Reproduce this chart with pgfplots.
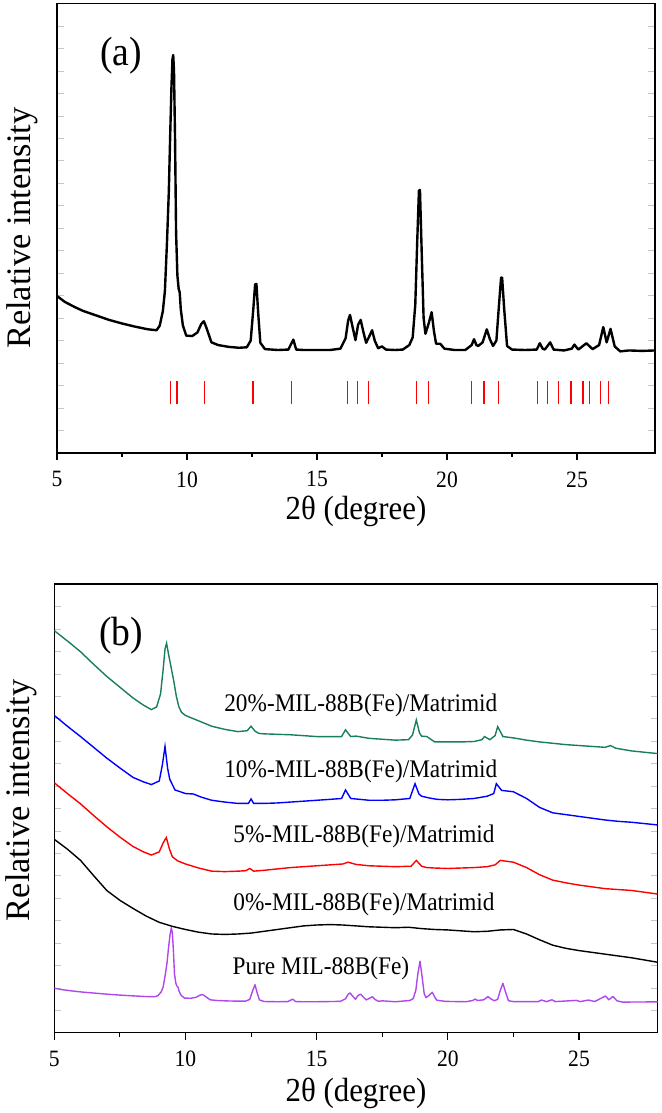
\documentclass[border=0pt]{standalone}
\usepackage{fontspec}
\setmainfont{Liberation Serif}[FakeStretch=0.92]
\newfontfamily\yfont{Liberation Serif}
\usepackage{pgfplots}
\pgfplotsset{compat=1.18}
\definecolor{mgreen}{RGB}{24,128,88}
\definecolor{mpurple}{RGB}{176,70,238}
\begin{document}
\begin{tikzpicture}
\path[use as bounding box] (0,0) rectangle (662bp,1113bp);
\pgfplotsset{
  xrdaxis/.style={
    scale only axis,
    anchor=south west,
    xmin=5, xmax=28, ymin=0, ymax=100,
    xtick={5,10,15,20,25},
    minor x tick num=1,
    xtick pos=bottom,
    xtick align=outside,
    ytick={5,10,...,95},
    yticklabels={},
    ytick pos=both,
    ytick align=inside,
    y tick style={line width=0.4bp, gray!45},
    x tick style={line width=1.1bp, black},
    major tick length=7bp,
    minor tick length=4bp,
    axis line style={line width=1.2bp},
    /pgf/number format/assume math mode=true,
    tick label style={font=\fontsize{23.5}{26}\selectfont},
    xticklabel style={yshift=-8bp},
    xlabel style={font=\fontsize{33.7}{38}\selectfont},
    ylabel style={font=\yfont\fontsize{34.5}{38}\selectfont},
    xlabel={2θ (degree)},
    ylabel={Relative intensity},
    unbounded coords=jump,
    clip=true,
  }
}
% ---------------- panel (a) ----------------
\begin{axis}[xrdaxis, at={(57bp,660bp)}, width=598bp, height=449.7bp,
  xlabel style={at={(axis description cs:0.5,0)}, anchor=center, yshift=-58bp},
  ylabel style={at={(axis description cs:-0.0588,0.5)}, anchor=center}]
\addplot[black, line width=2.4bp, line join=round] coordinates {
(5.0,34.9) (5.3,33.6) (5.7,32.4) (6.0,31.6) (6.5,30.6) (7.0,29.6) (7.5,28.8) (8.0,28.1) (8.5,27.5) (8.83,27.3)
(8.95,28.3) (9.07,31.5) (9.15,36) (9.23,46.8) (9.30,58) (9.35,69.9) (9.40,81) (9.44,87.5) (9.47,88.5) (9.50,85) (9.54,70)
(9.58,49) (9.63,39.5) (9.68,36.5) (9.72,35.7) (9.76,32) (9.84,28.4) (9.97,26.1) (10.2,26.0) (10.4,26.8) (10.55,28.7)
(10.65,29.3) (10.75,27.8) (10.94,24.6) (11.2,24.0) (11.6,23.6) (12.0,23.4) (12.3,23.5) (12.45,25) (12.55,32) (12.62,37.5) (12.67,37.6)
(12.74,31) (12.82,24.5) (13.0,23.1) (13.5,22.9) (13.9,23.0) (14.0,24.2) (14.09,25.2) (14.2,23.0) (14.5,22.9) (15.0,22.9)
(15.5,22.9) (15.9,23.2) (16.1,25.5) (16.2,29.5) (16.27,30.7) (16.35,28.5) (16.48,25.1) (16.58,28.5) (16.68,29.6) (16.78,27)
(16.89,24.5) (17.0,25.8) (17.12,27.3) (17.22,25.0) (17.35,23.3) (17.5,23.7) (17.65,23.0) (18.0,22.9) (18.3,23.0) (18.55,24.0)
(18.68,25.7) (18.78,33) (18.86,48) (18.92,58.3) (18.96,58.5) (19.03,44) (19.1,30) (19.17,26.5) (19.28,28.5) (19.41,31.3) (19.5,27)
(19.58,24.3) (19.74,24.3) (19.9,23.2) (20.3,22.9) (20.7,22.9) (20.95,24.0) (21.04,25.3) (21.13,24.0) (21.2,23.8) (21.37,24.6)
(21.53,27.5) (21.65,25.3) (21.77,23.8) (21.9,25.0) (22.0,33) (22.08,39) (22.12,39) (22.2,32) (22.31,23.8) (22.5,23.0) (23.0,22.9)
(23.45,23.0) (23.57,24.4) (23.68,23.2) (23.76,23.0) (23.97,24.6) (24.1,23.0) (24.5,22.8) (24.8,23.2) (24.9,24.1) (25.05,23.0)
(25.36,24.4) (25.6,23.1) (25.85,24.0) (26.01,28.0) (26.14,24.6) (26.29,27.6) (26.45,23.7) (26.66,22.6) (27.0,22.8) (27.5,22.7) (28.0,22.8)
};
\addplot[red, line width=1.3bp] coordinates {
(9.36,10.8) (9.36,16.1) (9.36,nan)
(9.61,10.8) (9.61,16.1) (9.61,nan)
(10.67,10.8) (10.67,16.1) (10.67,nan)
(12.54,10.8) (12.54,16.1) (12.54,nan)
(14.01,10.8) (14.01,16.1) (14.01,nan)
(16.18,10.8) (16.18,16.1) (16.18,nan)
(16.56,10.8) (16.56,16.1) (16.56,nan)
(16.99,10.8) (16.99,16.1) (16.99,nan)
(18.83,10.8) (18.83,16.1) (18.83,nan)
(19.30,10.8) (19.30,16.1) (19.30,nan)
(20.94,10.8) (20.94,16.1) (20.94,nan)
(21.42,10.8) (21.42,16.1) (21.42,nan)
(21.99,10.8) (21.99,16.1) (21.99,nan)
(23.49,10.8) (23.49,16.1) (23.49,nan)
(23.86,10.8) (23.86,16.1) (23.86,nan)
(24.30,10.8) (24.30,16.1) (24.30,nan)
(24.77,10.8) (24.77,16.1) (24.77,nan)
(25.23,10.8) (25.23,16.1) (25.23,nan)
(25.49,10.8) (25.49,16.1) (25.49,nan)
(25.90,10.8) (25.90,16.1) (25.90,nan)
(26.21,10.8) (26.21,16.1)
};
\node[font=\fontsize{41}{45}\selectfont] at (axis cs:7.46,88.3) {(a)};
\end{axis}
% ---------------- panel (b) ----------------
\begin{axis}[xrdaxis, at={(54.3bp,80.3bp)}, width=603.4bp, height=448.7bp,
  xlabel style={at={(axis description cs:0.5,0)}, anchor=center, yshift=-61bp},
  ylabel style={at={(axis description cs:-0.0545,0.518)}, anchor=center}]
% Pure MIL-88B(Fe)
\addplot[mpurple, line width=1.4bp, line join=round] coordinates {
(5.0,9.92) (5.3,9.59) (5.7,9.29) (6.0,9.09) (6.5,8.84) (7.0,8.59) (7.5,8.38) (8.0,8.21) (8.5,8.06) (8.83,8.01)
(8.95,8.26) (9.07,9.06) (9.15,10.19) (9.23,12.91) (9.30,15.73) (9.35,18.72) (9.41,21.76) (9.46,23.40) (9.50,22.27) (9.54,18.24)
(9.58,13.21) (9.63,11.07) (9.68,10.32) (9.72,10.12) (9.76,9.19) (9.84,8.28) (9.97,7.70) (10.2,7.68) (10.4,7.88) (10.55,8.36)
(10.65,8.51) (10.75,8.13) (10.94,7.33) (11.2,7.18) (11.6,7.08) (12.0,7.03) (12.3,7.05) (12.45,7.43) (12.55,9.19) (12.65,10.70)
(12.73,8.94) (12.82,7.30) (13.0,6.95) (13.5,6.90) (13.9,6.93) (14.0,7.23) (14.09,7.48) (14.2,6.93) (14.5,6.90) (15.0,6.90)
(15.9,6.98) (16.1,7.55) (16.2,8.56) (16.27,8.86) (16.35,8.31) (16.48,7.45) (16.58,8.31) (16.68,8.59) (16.78,7.93) (16.89,7.30)
(17.0,7.63) (17.12,8.01) (17.22,7.43) (17.35,7.00) (17.5,7.10) (18.0,6.90) (18.55,7.18) (18.68,7.60) (18.78,9.44) (18.86,13.21)
(18.94,15.93) (19.02,12.46) (19.1,8.69) (19.17,7.81) (19.28,8.31) (19.41,9.01) (19.5,7.93) (19.58,7.25) (19.9,6.98) (20.7,6.90)
(20.95,7.18) (21.04,7.50) (21.13,7.18) (21.37,7.33) (21.53,8.06) (21.65,7.50) (21.77,7.13) (21.9,7.43) (22.0,9.44) (22.10,11.00)
(22.18,9.44) (22.31,7.13) (22.5,6.93) (23.45,6.93) (23.57,7.28) (23.76,6.93) (23.97,7.33) (24.1,6.93) (24.9,7.20) (25.05,6.93)
(25.36,7.28) (25.6,6.95) (26.01,8.18) (26.14,7.33) (26.29,8.08) (26.45,7.10) (26.66,6.82) (28.0,6.87)
};
% 0%
\addplot[black, line width=1.4bp] coordinates {
(5,43.1) (5.5,40.9) (6,38.4) (6.5,35.0) (7,31.7) (7.5,29.5) (8,27.7) (8.5,26.0) (9,24.6) (9.5,23.7) (10,23.0) (10.5,22.4)
(11,22.0) (11.5,21.9) (12,22.0) (12.5,22.2) (13,22.6) (13.5,23.0) (14,23.4) (14.5,23.8) (15,24.0) (15.5,24.1) (16,24.0)
(16.5,23.8) (17,23.6) (17.5,23.5) (18,23.4) (18.5,23.5) (19,23.2) (19.5,23.0) (20,22.9) (20.5,22.7) (21,22.5) (21.5,22.6)
(22,22.9) (22.5,23.0) (23,22.0) (23.5,20.7) (24,19.5) (24.5,18.8) (25,18.3) (25.5,17.9) (26,17.5) (26.5,17.1) (27,16.7) (27.5,16.2) (28,15.7)
};
% 5%
\addplot[red, line width=1.4bp] coordinates {
(5,55.7) (5.5,53.3) (6,51.0) (6.5,48.4) (7,45.9) (7.5,43.6) (8,41.5) (8.4,40.3) (8.7,39.6) (9.0,40.3) (9.15,42.3) (9.27,43.5)
(9.38,41.1) (9.5,39.2) (9.7,38.3) (10,37.6) (10.5,36.7) (11,36.0) (11.5,35.9) (12,36.0) (12.3,36.1) (12.45,36.6) (12.6,36.0)
(13,36.2) (13.5,36.5) (14,36.8) (14.5,37.0) (15,37.2) (15.5,37.4) (16,37.6) (16.2,38.0) (16.5,37.5) (17,37.2) (17.5,37.1)
(18,37.0) (18.6,37.1) (18.8,38.4) (19.0,37.1) (19.2,36.8) (19.5,36.7) (20,36.6) (20.5,36.7) (21,36.8) (21.5,37.0) (21.8,37.4)
(22,38.4) (22.5,38.0) (23,36.8) (23.5,35.2) (24,34.0) (24.5,33.4) (25,32.9) (25.5,32.5) (26,32.1) (26.5,31.9) (27,31.7) (27.5,31.3) (28,30.9)
};
% 10%
\addplot[blue, line width=1.4bp] coordinates {
(5,70.7) (5.5,68.3) (6,66.0) (6.5,63.6) (7,61.2) (7.5,59.0) (8,56.9) (8.4,55.9) (8.7,55.3) (9.0,56.1) (9.12,59.7) (9.22,63.8)
(9.32,58.9) (9.4,56.5) (9.6,54.1) (10,53.3) (10.3,53.2) (10.6,52.5) (11,51.8) (11.5,51.4) (12,51.1) (12.4,51.1) (12.5,52.1)
(12.6,51.1) (13,51.1) (13.5,51.2) (14,51.4) (14.5,51.6) (15,51.8) (15.5,52.0) (15.95,52.2) (16.1,54.1) (16.3,52.2) (17,51.8)
(17.5,51.8) (18,51.9) (18.55,52.2) (18.75,55.5) (18.9,53.2) (19.0,52.7) (19.3,52.3) (19.6,52.0) (20,51.9) (20.5,52.0) (21,52.2)
(21.5,52.7) (21.75,53.3) (21.85,55.5) (22.05,54.0) (22.5,53.7) (23,52.2) (23.5,50.2) (24,49.0) (24.5,48.6) (25,48.2) (25.5,47.8)
(26,47.4) (26.5,47.1) (27,46.9) (27.5,46.6) (28,46.3)
};
% 20%
\addplot[mgreen, line width=1.4bp] coordinates {
(5,89.6) (5.5,87.3) (6,84.9) (6.5,82.1) (7,79.4) (7.5,77.0) (8,74.6) (8.4,73.0) (8.7,72.0) (8.9,72.6) (9.05,75.5) (9.15,81)
(9.22,85.5) (9.28,86.8) (9.35,84.5) (9.45,81.5) (9.55,78.5) (9.65,75.0) (9.75,72.6) (9.85,71.4) (10,70.7) (10.5,69.5) (11,68.3)
(11.5,67.6) (12,67.1) (12.35,67.3) (12.5,68.3) (12.65,67.2) (12.8,66.7) (13,66.6) (13.5,66.5) (14,66.4) (14.5,66.2) (15,66.0)
(15.5,66.0) (15.95,66.0) (16.1,67.5) (16.3,66.0) (16.5,66.1) (17,65.6) (17.5,65.4) (18,65.2) (18.5,65.3) (18.65,66.3) (18.8,69.7)
(18.92,66.8) (19.0,66.1) (19.2,66.0) (19.5,64.8) (20,64.8) (20.5,64.8) (21,64.9) (21.3,65.3) (21.4,66.0) (21.6,65.3) (21.8,66.2)
(21.9,68.2) (22.1,66.0) (22.5,65.7) (23,65.2) (23.5,64.8) (24,64.5) (24.5,64.2) (25,64.0) (25.5,63.8) (26,63.6) (26.2,64.0)
(26.4,63.4) (27,62.8) (27.5,62.5) (28,62.2)
};
\node[font=\fontsize{41}{45}\selectfont] at (axis cs:7.54,88.4) {(b)};
\node[font=\fontsize{25.4}{28}\selectfont, anchor=east, inner sep=0pt] at (axis cs:21.89,73.0) {20\%-MIL-88B(Fe)/Matrimid};
\node[font=\fontsize{25.4}{28}\selectfont, anchor=east, inner sep=0pt] at (axis cs:21.89,58.3) {10\%-MIL-88B(Fe)/Matrimid};
\node[font=\fontsize{25.4}{28}\selectfont, anchor=east, inner sep=0pt] at (axis cs:21.79,43.7) {5\%-MIL-88B(Fe)/Matrimid};
\node[font=\fontsize{25.4}{28}\selectfont, anchor=east, inner sep=0pt] at (axis cs:21.79,28.5) {0\%-MIL-88B(Fe)/Matrimid};
\node[font=\fontsize{25.4}{28}\selectfont, anchor=west, inner sep=0pt] at (axis cs:11.79,14.3) {Pure MIL-88B(Fe)};
\end{axis}
\end{tikzpicture}
\end{document}
